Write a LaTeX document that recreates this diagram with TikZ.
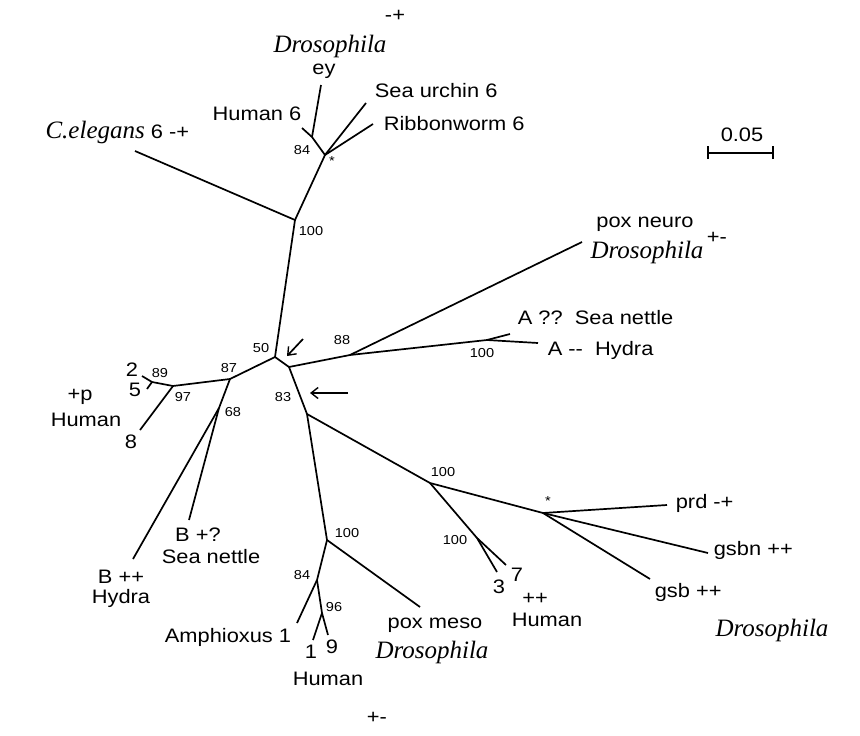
\documentclass[tikz,border=0pt]{standalone}
\usepackage{fontspec}
\setmainfont{Liberation Sans}[FakeStretch=1.12]
\newfontfamily\spfont{Liberation Serif}
\usetikzlibrary{arrows.meta}
\begin{document}
\begin{tikzpicture}[x=1pt,y=-1pt,line width=1.7pt,
    lab/.style={font=\fontsize{19.5}{22}\selectfont,inner sep=0pt},
    spec/.style={font=\spfont\itshape\fontsize{25}{27}\selectfont,inner sep=0pt},
    boot/.style={font=\fontsize{13}{15}\selectfont,inner sep=0pt},
    arr/.style={-{Straight Barb[length=7pt,width=11pt,line width=1.4pt]}}]
    \useasboundingbox (0,0) rectangle (860,736);

    \coordinate (n50) at (275,357);
    \coordinate (nA) at (289,367);
    \coordinate (n83) at (307,414);
    \coordinate (n88) at (350,355);
    \coordinate (nAA) at (487,340);
    \coordinate (ntop) at (295,220);
    \coordinate (nstar) at (325,155);
    \coordinate (n84a) at (312,137);
    \coordinate (n87) at (230,379);
    \coordinate (n97) at (173,386);
    \coordinate (n89) at (152,382);
    \coordinate (n68) at (219,408);
    \coordinate (n100b) at (327,540);
    \coordinate (n84b) at (317,580);
    \coordinate (n96) at (322,613);
    \coordinate (n100d) at (430,483);
    \coordinate (n100e) at (477,538);
    \coordinate (ngsb) at (543,513);

    \coordinate (lcel) at (135,151);
    \coordinate (lhum6) at (302,128);
    \coordinate (ley) at (321,85);
    \coordinate (lurch) at (366,103);
    \coordinate (lribb) at (373,124);
    \coordinate (lneuro) at (582,242);
    \coordinate (lnetA) at (510,334);
    \coordinate (lhydA) at (538,343);
    \coordinate (lh2) at (142,376);
    \coordinate (lh5) at (147,389);
    \coordinate (lh8) at (140,430);
    \coordinate (lnetB) at (189,520);
    \coordinate (lhydB) at (133,559);
    \coordinate (lamph) at (297,623);
    \coordinate (lh1) at (313,640);
    \coordinate (lh9) at (328,635);
    \coordinate (lmeso) at (420,607);
    \coordinate (lh3) at (497,572);
    \coordinate (lh7) at (506,565);
    \coordinate (lprd) at (667,505);
    \coordinate (lgsbn) at (708,553);
    \coordinate (lgsb) at (650,579);

    \draw (n50) -- (ntop) -- (nstar) -- (n84a) -- (lhum6);
    \draw (n84a) -- (ley);
    \draw (nstar) -- (lurch);
    \draw (nstar) -- (lribb);
    \draw (ntop) -- (lcel);
    \draw (n50) -- (nA) -- (n88) -- (lneuro);
    \draw (n88) -- (nAA) -- (lhydA);
    \draw (nAA) -- (lnetA);
    \draw (n50) -- (n87) -- (n97) -- (n89) -- (lh2);
    \draw (n89) -- (lh5);
    \draw (n97) -- (lh8);
    \draw (n87) -- (n68) -- (lnetB);
    \draw (n68) -- (lhydB);
    \draw (nA) -- (n83) -- (n100b) -- (n84b) -- (lamph);
    \draw (n84b) -- (n96) -- (lh1);
    \draw (n96) -- (lh9);
    \draw (n100b) -- (lmeso);
    \draw (n83) -- (n100d) -- (ngsb) -- (lprd);
    \draw (ngsb) -- (lgsbn);
    \draw (ngsb) -- (lgsb);
    \draw (n100d) -- (n100e) -- (lh3);
    \draw (n100e) -- (lh7);

    \coordinate (a1s) at (303,339);
    \coordinate (a1e) at (287,356);
    \coordinate (a2s) at (348,393);
    \coordinate (a2e) at (310,393);
    \draw[arr] (a1s) -- (a1e);
    \draw[arr] (a2s) -- (a2e);

    \node[spec] (tdro) at (330,46) {Drosophila};
    \node[lab] (tey) at (324,71) {ey};
    \node[lab] (tpm1) at (395,16) {-+};
    \node[lab] (thum6) at (257,114) {Human 6};
    \node[lab,anchor=west] (turch) at (374,91) {Sea urchin 6};
    \node[lab,anchor=west] (tribb) at (383,124) {Ribbonworm 6};
    \node[lab,anchor=east] (tcel) at (190,132) {{\spfont\itshape\fontsize{25}{27}\selectfont C.elegans} 6 -+};
    \node[boot] (b84a) at (302,150) {84};
    \node[boot] (bs1) at (332,161) {*};
    \node[boot] (b100a) at (311,231) {100};

    \node[lab] (tscale) at (742,135) {0.05};
    \coordinate (sl) at (708,153);
    \coordinate (sr) at (773,153);
    \draw[line width=1.2pt] (sl) -- (sr);
    \draw[line width=1.7pt] ([yshift=-6pt]sl) -- ([yshift=7pt]sl);
    \draw[line width=1.7pt] ([yshift=-6pt]sr) -- ([yshift=7pt]sr);

    \node[lab,anchor=base] (tneuro) at (645,227) {pox neuro};
    \node[spec] (tdro2) at (647,252) {Drosophila};
    \node[lab] (tpm2) at (717,238) {+-};
    \node[boot] (b88) at (342,340) {88};
    \node[boot] (b100c) at (482,353) {100};
    \node[lab,anchor=west] (tnetA) at (517,318) {A ??\ \ Sea nettle};
    \node[lab,anchor=west] (thydA) at (547,350) {A -{}-\ \ Hydra};

    \node[boot] (b50) at (261,348) {50};
    \node[boot] (b87) at (229,368) {87};
    \node[boot] (b83) at (283,397) {83};
    \node[boot] (b68) at (233,412) {68};
    \node[boot] (b89) at (160,373) {89};
    \node[boot] (b97) at (183,397) {97};
    \node[lab] (t2) at (132,370) {2};
    \node[lab] (t5) at (135,390) {5};
    \node[lab] (t8) at (131,442) {8};
    \node[lab] (tpp) at (80,397) {+p};
    \node[lab] (thum) at (86,420) {Human};
    \node[lab] (tBn) at (198,535) {B +?};
    \node[lab] (tnetB) at (211,557) {Sea nettle};
    \node[lab] (tBh) at (121,577) {B ++};
    \node[lab] (thydB) at (121,598) {Hydra};

    \node[boot] (b100b) at (347,533) {100};
    \node[boot] (b84b) at (302,575) {84};
    \node[boot] (b96) at (334,607) {96};
    \node[lab] (tamph) at (228,637) {Amphioxus 1};
    \node[lab] (t1) at (311,652) {1};
    \node[lab] (t9) at (332,647) {9};
    \node[lab] (thum19) at (328,679) {Human};
    \node[lab] (tpm3) at (377,718) {+-};
    \node[lab] (tmeso) at (435,625) {pox meso};
    \node[spec] (tdro3) at (432,652) {Drosophila};

    \node[boot] (b100d) at (443,472) {100};
    \node[boot] (b100e) at (455,540) {100};
    \node[boot] (bs2) at (548,501) {*};
    \node[lab] (t3) at (499,587) {3};
    \node[lab] (t7) at (517,575) {7};
    \node[lab] (tpp2) at (535,599) {++};
    \node[lab] (thum37) at (547,620) {Human};
    \node[lab,anchor=west] (tprd) at (675,503) {prd -+};
    \node[lab,anchor=west] (tgsbn) at (713,550) {gsbn ++};
    \node[lab,anchor=west] (tgsb) at (654,592) {gsb ++};
    \node[spec] (tdro4) at (772,630) {Drosophila};
\end{tikzpicture}
\end{document}
